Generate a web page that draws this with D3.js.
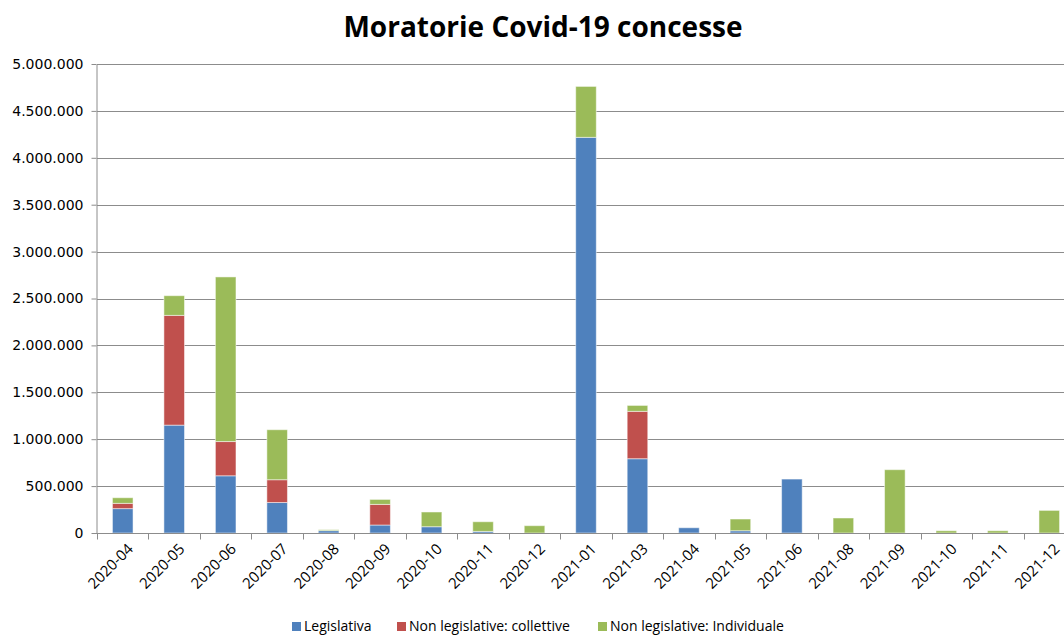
<!DOCTYPE html>
<html>
<head>
<meta charset="utf-8">
<script src="https://cdn.jsdelivr.net/npm/d3@7"></script>
<style>
  body { margin: 0; background: #fff; }
  svg { display: block; }
</style>
</head>
<body>
<script>
// chart size
var width = 1064;
var height = 635;
var margin = { top: 64, right: -11, bottom: 102, left: 97 };

// data
var months = ["2020-04", "2020-05", "2020-06", "2020-07", "2020-08", "2020-09", "2020-10",
              "2020-11", "2020-12", "2021-01", "2021-03", "2021-04", "2021-05", "2021-06",
              "2021-08", "2021-09", "2021-10", "2021-11", "2021-12"];
var legislativa = [260000, 1150000, 610000, 325000, 25000, 85000, 67000,
                   17000, 0, 4218000, 792000, 56000, 24000, 575000,
                   0, 0, 0, 0, 0];
var collettive = [56000, 1170000, 365000, 243000, 0, 220000, 0,
                  0, 0, 0, 505000, 0, 0, 0,
                  0, 0, 0, 0, 0];
var individuale = [60000, 210000, 1755000, 533000, 10000, 53000, 157000,
                   103000, 78000, 543000, 63000, 0, 125000, 0,
                   160000, 675000, 24000, 24000, 241000];
var seriesNames = ["Legislativa", "Non legislative: collettive", "Non legislative: Individuale"];
var seriesColors = ["#4F81BD", "#C0504D", "#9BBB59"];
var yTicks = [0, 500000, 1000000, 1500000, 2000000, 2500000, 3000000, 3500000, 4000000, 4500000, 5000000];

// build rows for the stack
var table = months.map(function (m, i) {
    return { month: m, a: legislativa[i], b: collettive[i], c: individuale[i] };
});
var stacked = d3.stack().keys(["a", "b", "c"])(table);

var svg = d3.select("body")
    .append("svg")
    .attr("width", width)
    .attr("height", height);

var x = d3.scaleBand()
    .domain(months)
    .range([margin.left, width - margin.right])
    .paddingInner(0.6)
    .paddingOuter(0.3);

var y = d3.scaleLinear()
    .domain([0, 5000000])
    .range([height - margin.bottom, margin.top]);

var fmt = function (v) { return d3.format(",")(v).replace(/,/g, "."); };

// title
svg.append("text")
    .attr("x", 543)
    .attr("y", 37)
    .attr("text-anchor", "middle")
    .style("font-family", "'Open Sans', sans-serif")
    .style("font-weight", "bold")
    .style("font-size", "28px")
    .text("Moratorie Covid-19 concesse");

// gridlines
svg.append("g")
    .selectAll("line")
    .data(yTicks.slice(1))
    .enter()
    .append("line")
    .attr("x1", margin.left)
    .attr("x2", width)
    .attr("y1", function (d) { return Math.round(y(d)) + 0.5; })
    .attr("y2", function (d) { return Math.round(y(d)) + 0.5; })
    .attr("stroke", "#8c8c8c")
    .attr("stroke-width", 1);

// y axis
var yAxis = svg.append("g")
    .attr("transform", "translate(" + (margin.left - 0.5) + ",0)")
    .call(d3.axisLeft(y).tickValues(yTicks).tickFormat(fmt).tickSize(5).tickSizeOuter(0));
yAxis.select(".domain").attr("stroke", "#8c8c8c");
yAxis.selectAll(".tick line").attr("stroke", "#8c8c8c");
yAxis.selectAll(".tick text")
    .attr("x", -13)
    .style("font-family", "'DejaVu Sans', sans-serif")
    .style("font-size", "14px")
    .attr("fill", "#000");

// bars
svg.append("g")
    .selectAll("g")
    .data(stacked)
    .enter()
    .append("g")
    .attr("fill", function (d, i) { return seriesColors[i]; })
    .selectAll("rect")
    .data(function (d) { return d; })
    .enter()
    .append("rect")
    .filter(function (d) { return d[1] - d[0] > 0; })
    .attr("x", function (d) { return x(d.data.month); })
    .attr("width", x.bandwidth())
    .attr("y", function (d) { return y(d[1]); })
    .attr("height", function (d) { return y(d[0]) - y(d[1]); })
    .attr("stroke", "#ffffff")
    .attr("stroke-opacity", 0.5)
    .attr("stroke-width", 1);

// x axis with ticks between categories
var xg = svg.append("g")
    .attr("transform", "translate(0," + (Math.round(y(0)) + 0.5) + ")");
xg.append("line")
    .attr("x1", margin.left - 5)
    .attr("x2", width)
    .attr("stroke", "#8c8c8c");
xg.selectAll(".sep")
    .data(months)
    .enter()
    .append("line")
    .attr("class", "sep")
    .attr("x1", function (d) { return Math.round(x(d) - x.step() * x.paddingOuter()) + 0.5; })
    .attr("x2", function (d) { return Math.round(x(d) - x.step() * x.paddingOuter()) + 0.5; })
    .attr("y1", 0)
    .attr("y2", 6)
    .attr("stroke", "#8c8c8c");
xg.selectAll(".lab")
    .data(months)
    .enter()
    .append("text")
    .attr("class", "lab")
    .attr("text-anchor", "end")
    .attr("transform", function (d) {
        return "translate(" + (x(d) + x.bandwidth() / 2 + 4) + ",9) rotate(-45)";
    })
    .attr("dy", "0.7em")
    .style("font-family", "'Open Sans', sans-serif")
    .style("font-size", "15px")
    .attr("fill", "#000")
    .text(function (d) { return d; });

// legend
var legendX = [292, 397, 598];
var legend = svg.append("g")
    .selectAll("g")
    .data(seriesNames)
    .enter()
    .append("g")
    .attr("transform", function (d, i) { return "translate(" + legendX[i] + ",622)"; });
legend.append("rect")
    .attr("width", 9)
    .attr("height", 9)
    .attr("fill", function (d, i) { return seriesColors[i]; });
legend.append("text")
    .attr("x", 12)
    .attr("y", 9)
    .style("font-family", "'Open Sans', sans-serif")
    .style("font-size", "14px")
    .attr("fill", "#000")
    .text(function (d) { return d; });
</script>
</body>
</html>
